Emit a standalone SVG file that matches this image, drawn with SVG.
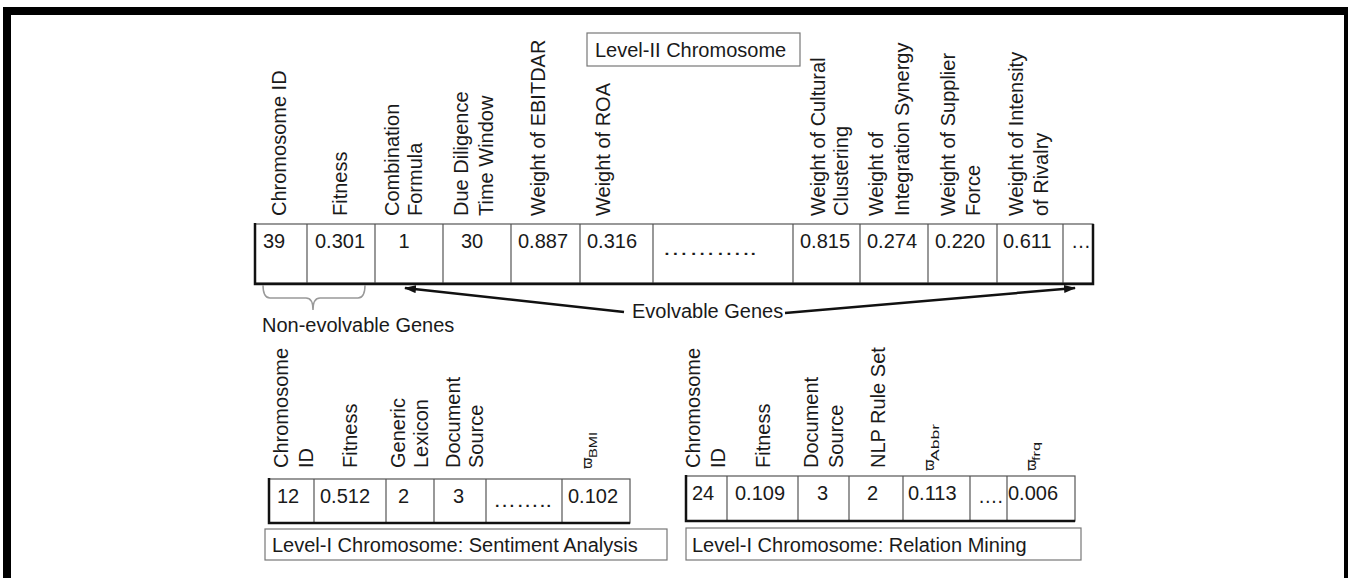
<svg xmlns="http://www.w3.org/2000/svg" width="1348" height="578" viewBox="0 0 1348 578">
<defs>
<style>
text{font-family:"Liberation Sans",Arial,sans-serif;fill:#1a1a1a;}
.lbl{font-size:20px;}
.val{font-size:20px;}
.sym{font-size:14px;font-family:"DejaVu Sans","Liberation Sans",sans-serif;}
.sub{font-size:10px;}
.cell{fill:none;stroke:#555;stroke-width:1.2;}
.thick{stroke:#111;stroke-width:2.5;fill:none;}
.box{fill:#fff;stroke:#777;stroke-width:1.2;}
.conn{stroke:#111;stroke-width:2.5;fill:none;}
.brace{stroke:#999;stroke-width:1.5;fill:none;}
</style>
<marker id="ah" viewBox="0 0 12 8" refX="11" refY="4" markerWidth="12" markerHeight="8" markerUnits="userSpaceOnUse" orient="auto">
<path d="M0,0 L12,4 L0,8 Z" fill="#111"/>
</marker>
</defs>
<rect width="1348" height="578" fill="#fff"/>
<g id="frame" fill="#000">
<rect x="3" y="7" width="1345" height="8"/>
<rect x="3" y="7" width="8" height="571"/>
<rect x="1344" y="7" width="4" height="571"/>
</g>

<g id="level2-title">
<rect class="box" x="587" y="33" width="213" height="33"/>
<text class="lbl" x="595" y="57">Level-II Chromosome</text>
</g>

<g id="level2-chromosome">
<rect class="cell" x="255" y="224" width="838" height="59"/>
<path class="cell" d="M307,224V283M375,224V283M443,224V283M511,224V283M580,224V283M653,224V283M793,224V283M860,224V283M928,224V283M997,224V283M1063,224V283"/>
<path class="thick" d="M255,223V284H1093V224"/>
<g class="lbl">
<text transform="translate(286,216) rotate(-90)">Chromosome ID</text>
<text transform="translate(347,216) rotate(-90)">Fitness</text>
<text transform="translate(399,216) rotate(-90)">Combination</text>
<text transform="translate(422,216) rotate(-90)">Formula</text>
<text transform="translate(468,216) rotate(-90)">Due Diligence</text>
<text transform="translate(493,216) rotate(-90)">Time Window</text>
<text transform="translate(545,216) rotate(-90)">Weight of EBITDAR</text>
<text transform="translate(610,216) rotate(-90)">Weight of ROA</text>
<text transform="translate(825,216) rotate(-90)">Weight of Cultural</text>
<text transform="translate(848,216) rotate(-90)">Clustering</text>
<text transform="translate(883,216) rotate(-90)">Weight of</text>
<text transform="translate(909,216) rotate(-90)">Integration Synergy</text>
<text transform="translate(955,216) rotate(-90)">Weight of Supplier</text>
<text transform="translate(980,216) rotate(-90)">Force</text>
<text transform="translate(1023,216) rotate(-90)">Weight of Intensity</text>
<text transform="translate(1048,216) rotate(-90)">of Rivalry</text>
</g>
<g class="val">
<text x="263" y="248">39</text>
<text x="315" y="248">0.301</text>
<text x="404" y="248" text-anchor="middle">1</text>
<text x="472" y="248" text-anchor="middle">30</text>
<text x="518" y="248">0.887</text>
<text x="587" y="248">0.316</text>
<text x="662" y="255" textLength="95" lengthAdjust="spacingAndGlyphs">………..</text>
<text x="800" y="248">0.815</text>
<text x="867" y="248">0.274</text>
<text x="935" y="248">0.220</text>
<text x="1003" y="248">0.611</text>
<text x="1071" y="248">…</text>
</g>
</g>

<g id="non-evolvable">
<path class="brace" d="M263,285 Q263,298 270,298 H306 Q313,298 313,310 Q313,298 320,298 H358 Q365,298 365,285"/>
<text class="lbl" x="262" y="332">Non-evolvable Genes</text>
</g>

<g id="evolvable">
<text class="lbl" x="632" y="318">Evolvable Genes</text>
</g>

<g id="connectors">
<line class="conn" x1="624" y1="312" x2="405" y2="288" marker-end="url(#ah)"/>
<line class="conn" x1="785" y1="313" x2="1075" y2="288" marker-end="url(#ah)"/>
</g>

<g id="level1-sentiment">
<rect class="cell" x="269" y="479" width="361" height="44"/>
<path class="cell" d="M314,479V523M386,479V523M434,479V523M486,479V523M562,479V523"/>
<path class="thick" d="M269,478V523H630"/>
<g class="lbl">
<text transform="translate(288,468) rotate(-90)">Chromosome</text>
<text transform="translate(313,468) rotate(-90)">ID</text>
<text transform="translate(357,468) rotate(-90)">Fitness</text>
<text transform="translate(405,468) rotate(-90)">Generic</text>
<text transform="translate(428,468) rotate(-90)">Lexicon</text>
<text transform="translate(460,468) rotate(-90)">Document</text>
<text transform="translate(483,468) rotate(-90)">Source</text>
</g>
<text class="sym" transform="translate(592,469) rotate(-90)">ϖ</text>
<text class="sub" transform="translate(597,458) rotate(-90)" textLength="26" lengthAdjust="spacingAndGlyphs">BMI</text>
<g class="val">
<text x="277" y="503">12</text>
<text x="320" y="503">0.512</text>
<text x="398" y="503">2</text>
<text x="453" y="503">3</text>
<text x="493" y="507" textLength="59" lengthAdjust="spacingAndGlyphs">……..</text>
<text x="568" y="503">0.102</text>
</g>
</g>
<g id="sentiment-title">
<rect class="box" x="265" y="529" width="402" height="31"/>
<text class="lbl" x="272" y="552">Level-I Chromosome: Sentiment Analysis</text>
</g>

<g id="level1-relation">
<rect class="cell" x="686" y="476" width="389" height="45"/>
<path class="cell" d="M727,476V521M798,476V521M849,476V521M903,476V521M970,476V521M1007,476V521"/>
<path class="thick" d="M686,475V521H1075"/>
<g class="lbl">
<text transform="translate(700,468) rotate(-90)">Chromosome</text>
<text transform="translate(725,468) rotate(-90)">ID</text>
<text transform="translate(770,468) rotate(-90)">Fitness</text>
<text transform="translate(818,468) rotate(-90)">Document</text>
<text transform="translate(843,468) rotate(-90)">Source</text>
<text transform="translate(885,468) rotate(-90)">NLP Rule Set</text>
</g>
<text class="sym" transform="translate(934,471) rotate(-90)">ϖ</text>
<text class="sub" transform="translate(939,461) rotate(-90)" textLength="37" lengthAdjust="spacingAndGlyphs">Abbr</text>
<text class="sym" transform="translate(1036,471) rotate(-90)">ϖ</text>
<text class="sub" transform="translate(1040,461) rotate(-90)" textLength="19" lengthAdjust="spacingAndGlyphs">frq</text>
<g class="val">
<text x="692" y="500">24</text>
<text x="735" y="500">0.109</text>
<text x="817" y="500">3</text>
<text x="867" y="500">2</text>
<text x="908" y="500">0.113</text>
<text x="978" y="503" textLength="25" lengthAdjust="spacingAndGlyphs">….</text>
<text x="1008" y="500">0.006</text>
</g>
</g>
<g id="relation-title">
<rect class="box" x="686" y="528" width="395" height="32"/>
<text class="lbl" x="692" y="552">Level-I Chromosome: Relation Mining</text>
</g>
</svg>
